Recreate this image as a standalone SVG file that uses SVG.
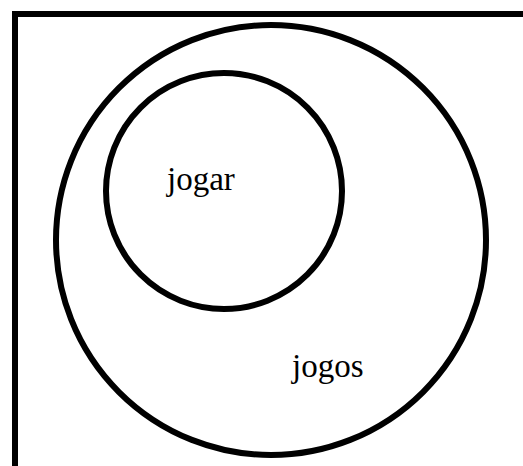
<svg xmlns="http://www.w3.org/2000/svg" width="523" height="466" viewBox="0 0 523 466">
<style>
.c{fill:none;stroke:#000;stroke-width:6}
.t{font-family:"Liberation Serif","Times New Roman",serif;font-size:33px;fill:#000}
</style>
<rect x="0" y="0" width="523" height="466" fill="#fff"/>
<rect class="c" x="15" y="14" width="520" height="470"/>
<g id="jogos">
<circle class="c" cx="271" cy="240" r="215"/>
<text class="t" x="292" y="377">jogos</text>
</g>
<g id="jogar">
<circle class="c" cx="224" cy="191" r="118"/>
<text class="t" x="167" y="190">jogar</text>
</g>
</svg>
